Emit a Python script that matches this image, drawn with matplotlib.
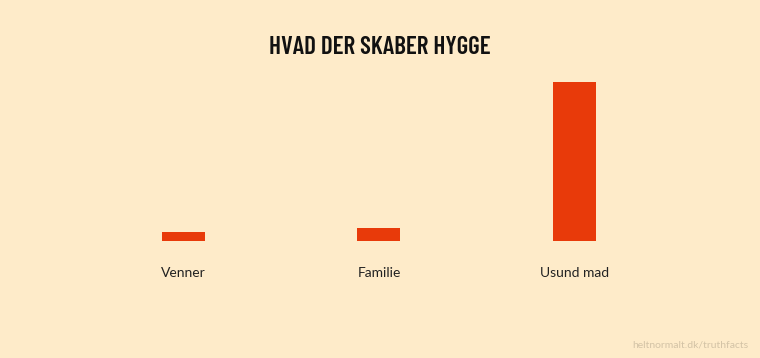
import matplotlib.pyplot as plt
from matplotlib import font_manager

categories = ["Venner", "Familie", "Usund mad"]
values = [9, 13, 159]

BG = "#FEEBC9"
BAR = "#E83A0A"

installed = {f.name for f in font_manager.fontManager.ttflist}
title_font = next(
	name for name in ["Barlow Condensed", "Roboto Condensed", "DejaVu Sans"]
	if name in installed
)

fig = plt.figure(figsize=(7.6, 3.58), dpi=100, facecolor=BG)
ax = fig.add_axes([0.1128, 0.3268, 0.7717, 0.4469])
ax.set_facecolor(BG)

ax.bar(range(len(categories)), values, width=0.22, color=BAR)
ax.set_xlim(-0.5, 2.5)
ax.set_ylim(0, 160)

ax.set_xticks(range(len(categories)))
ax.set_xticklabels(categories, fontfamily="Lato", fontsize=10, color="#222222")
ax.tick_params(axis="x", length=0, pad=19)
ax.set_yticks([])
for spine in ax.spines.values():
	spine.set_visible(False)

fig.text(0.5, 1 - 47 / 358, "HVAD DER SKABER HYGGE", ha="center", va="center",
	fontfamily=title_font, fontstretch="condensed", fontweight="semibold",
	fontsize=18, color="#111111")
fig.text(1 - 12 / 760, 1 - 345 / 358, "heltnormalt.dk/truthfacts", ha="right", va="center",
	fontfamily="Lato", fontsize=7.5, color="#D3C3A6")

fig.savefig("out.png", dpi=100, facecolor=BG)
